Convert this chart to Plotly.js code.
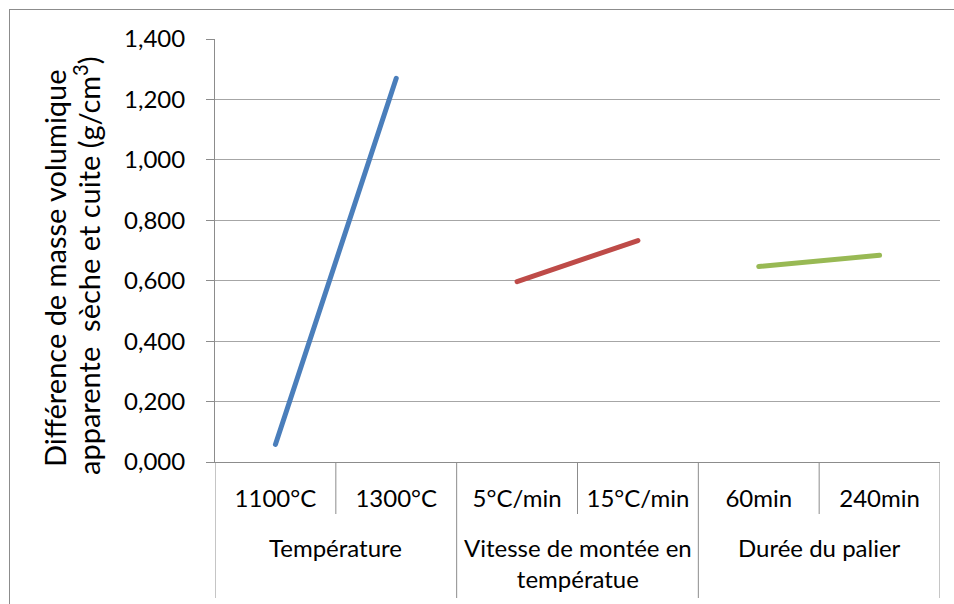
<!DOCTYPE html>
<html>
<head>
<meta charset="utf-8">
<script src="https://cdn.plot.ly/plotly-3.0.1.min.js"></script>
<style>
  html, body { margin: 0; padding: 0; background: #fff; overflow: hidden; }
  #wrap { position: relative; width: 954px; height: 604px; }
  #chart { position: absolute; left: 0; top: 0; width: 954px; height: 604px; }
  #frame { position: absolute; left: 9px; top: 9px; width: 980px; height: 700px;
           border: 1px solid #8c8c8c; pointer-events: none; }
  .js-line { stroke-linecap: round; }
</style>
</head>
<body>
<div id="wrap">
  <div id="chart"></div>
  <div id="frame"></div>
</div>
<script>
// Categories (first level) and their groups (second level)
const categories = ['1100°C', '1300°C', '5°C/min', '15°C/min', '60min', '240min'];
const groupLabels = ['Température', 'Vitesse de montée en<br>températue', 'Durée du palier'];
const groupSizes = [2, 2, 2];

// Difference of apparent density, dry vs fired (g/cm3)
const temperatureValues = [0.058, 1.270];
const vitesseValues = [0.597, 0.733];
const dureeValues = [0.647, 0.684];

const yTitleLine1 = 'Différence de masse volumique';
const yTitleLine2 = 'apparente\u00a0 sèche et cuite (g/cm<sup>3</sup>)';

const seriesValues = [temperatureValues, vitesseValues, dureeValues];
const seriesColors = ['#4a7ebb', '#be4b48', '#98b954'];

const font = 'Lato, "Liberation Sans", sans-serif';
const axisGray = '#8c8c8c';

// One line per group, spanning that group's categories
const traces = [];
let start = 0;
groupSizes.forEach((n, g) => {
  traces.push({
    type: 'scatter',
    mode: 'lines',
    x: categories.slice(start, start + n),
    y: seriesValues[g],
    line: { color: seriesColors[g], width: 5 },
    hoverinfo: 'x+y',
    showlegend: false
  });
  start += n;
});

// Plot geometry (px) used to express label-area lengths in paper units
const margin = { l: 215, r: 14, t: 39, b: 142 };
const plotH = 604 - margin.t - margin.b;
const catTickLen = 52 / plotH;     // dividers between categories
const groupTickLen = 136 / plotH;  // dividers between groups

const shapes = [];
// category boundaries inside each group
start = 0;
groupSizes.forEach((n) => {
  for (let i = 1; i < n; i++) {
    const xb = start + i - 0.5;
    shapes.push({ type: 'line', xref: 'x', yref: 'paper', x0: xb, x1: xb, y0: 0, y1: -catTickLen,
                  line: { color: axisGray, width: 1 } });
  }
  start += n;
});
// group boundaries (including both outer edges)
let edge = -0.5;
const groupEdges = [edge];
groupSizes.forEach((n) => { edge += n; groupEdges.push(edge); });
groupEdges.forEach((xb) => {
  shapes.push({ type: 'line', xref: 'x', yref: 'paper', x0: xb, x1: xb, y0: 0, y1: -groupTickLen,
                line: { color: axisGray, width: 1 } });
});

// group labels centred under their categories
const annotations = [];
start = 0;
groupSizes.forEach((n, g) => {
  annotations.push({
    xref: 'x', yref: 'paper', x: start + (n - 1) / 2, y: -(69 / plotH),
    xanchor: 'center', yanchor: 'top', showarrow: false,
    text: groupLabels[g], font: { family: font, size: 24, color: '#000' }
  });
  start += n;
});
// y-axis title, two lines
annotations.push({
  xref: 'paper', yref: 'paper', x: (54 - margin.l) / 725, y: 1 - (268 - margin.t) / plotH,
  xanchor: 'center', yanchor: 'middle', textangle: -90, showarrow: false,
  text: yTitleLine1, font: { family: font, size: 29, color: '#000' }
});
annotations.push({
  xref: 'paper', yref: 'paper', x: (87 - margin.l) / 725, y: 1 - (266 - margin.t) / plotH,
  xanchor: 'center', yanchor: 'middle', textangle: -90, showarrow: false,
  text: yTitleLine2, font: { family: font, size: 29, color: '#000' }
});

const layout = {
  width: 954, height: 604,
  margin: margin,
  paper_bgcolor: '#fff', plot_bgcolor: '#fff',
  separators: ', ',
  font: { family: font, color: '#000' },
  showlegend: false,
  xaxis: {
    type: 'category',
    categoryorder: 'array', categoryarray: categories,
    range: [-0.5, categories.length - 0.5],
    showgrid: false, zeroline: false,
    showline: true, linecolor: axisGray, linewidth: 1,
    ticks: '', ticklabelstandoff: 15,
    tickfont: { family: font, size: 24, color: '#000' },
    fixedrange: true
  },
  yaxis: {
    range: [0, 1.4], dtick: 0.2, tick0: 0,
    tickformat: '.3f',
    showgrid: true, gridcolor: '#a6a6a6', gridwidth: 1,
    zeroline: false,
    showline: true, linecolor: axisGray, linewidth: 1,
    ticks: 'outside', ticklen: 8, tickcolor: axisGray,
    ticklabelstandoff: 16,
    tickfont: { family: font, size: 24, color: '#000' },
    fixedrange: true
  },
  shapes: shapes,
  annotations: annotations
};

Plotly.newPlot('chart', traces, layout, { displayModeBar: false, staticPlot: true });
</script>
</body>
</html>
